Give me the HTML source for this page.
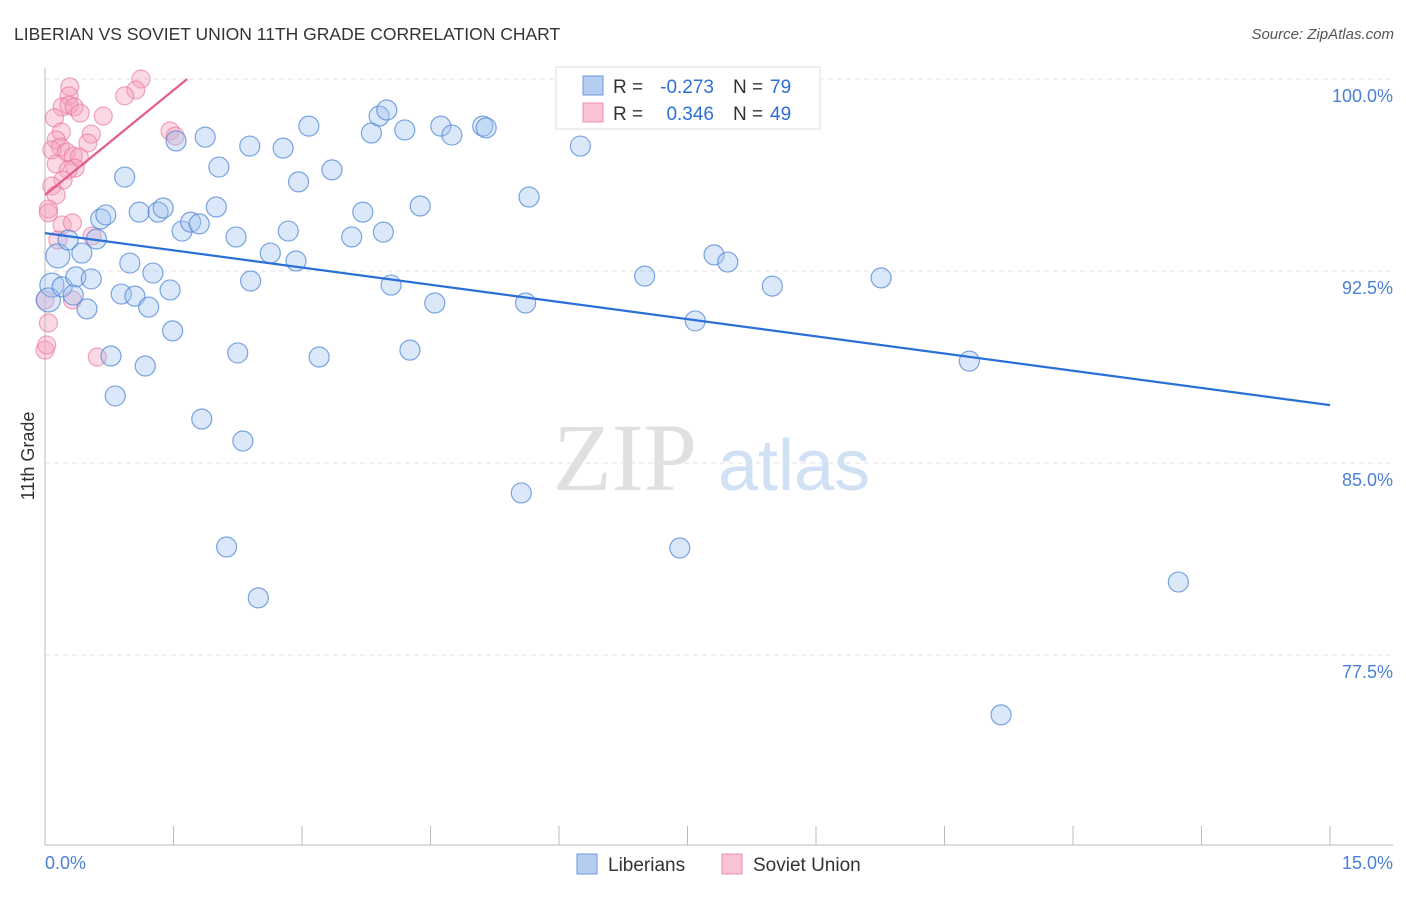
<!DOCTYPE html>
<html><head><meta charset="utf-8"><style>
body{margin:0;background:#fff;font-family:"Liberation Sans",sans-serif}
</style></head><body>
<svg id="chart" width="1406" height="892" xmlns="http://www.w3.org/2000/svg" font-family="Liberation Sans, sans-serif">
<text x="14" y="40" font-size="17.5" fill="#333">LIBERIAN VS SOVIET UNION 11TH GRADE CORRELATION CHART</text>
<text x="1394" y="39" font-size="15" fill="#555" text-anchor="end" font-style="italic">Source: ZipAtlas.com</text>
<g>
<text x="553" y="490" font-size="96" font-family="Liberation Serif, serif" fill="#e0e0e0">ZIP</text>
<text x="718" y="490" font-size="72" fill="#d0e0f5">atlas</text>
</g>
<g id="grid"></g>
<g id="axes"></g>
<g id="marks"></g>
<text transform="translate(34,456) rotate(-90)" font-size="18" fill="#333" text-anchor="middle">11th Grade</text>
<g>
<rect x="556" y="67" width="264" height="62" fill="#fff" stroke="#ddd"/>
<rect x="583" y="76" width="20" height="19" fill="#b4cdf0" stroke="#6b9ae0"/>
<rect x="583" y="103" width="20" height="19" fill="#f9c3d3" stroke="#ee8fab"/>
<text x="613" y="93" font-size="19" fill="#333">R =</text>
<text x="714" y="93" font-size="19" fill="#2b6fd6" text-anchor="end">-0.273</text>
<text x="733" y="93" font-size="19" fill="#333">N =</text>
<text x="770" y="93" font-size="19" fill="#2b6fd6">79</text>
<text x="613" y="120" font-size="19" fill="#333">R =</text>
<text x="714" y="120" font-size="19" fill="#2b6fd6" text-anchor="end">0.346</text>
<text x="733" y="120" font-size="19" fill="#333">N =</text>
<text x="770" y="120" font-size="19" fill="#2b6fd6">49</text>
</g>
<g>
<rect x="577" y="854" width="20" height="20" fill="#b4cdf0" stroke="#6b9ae0"/>
<text x="608" y="871" font-size="19" fill="#333">Liberians</text>
<rect x="722" y="854" width="20" height="20" fill="#f9c3d3" stroke="#ee8fab"/>
<text x="753" y="871" font-size="19" fill="#333">Soviet Union</text>
</g>
</svg>
<script>
const yTicks=[100,92.5,85,77.5];
const yTickLabels=["100.0%","92.5%","85.0%","77.5%"];
const xTickLabels=["0.0%","15.0%"];
const blueX=[0.15,0.08,0.04,0.20,0.27,0.43,0.36,0.54,0.49,0.33,0.60,0.65,0.71,0.77,0.82,0.89,0.93,0.99,1.05,1.10,1.21,1.26,1.32,1.38,1.46,1.49,1.17,1.53,1.60,1.70,1.80,1.83,1.87,2.00,2.03,2.12,2.23,2.25,2.31,2.39,2.40,2.49,2.63,2.78,2.84,2.93,2.96,3.08,3.20,3.35,3.58,3.71,3.81,3.90,3.95,3.99,4.04,4.20,4.26,4.38,4.55,4.62,4.75,5.11,5.15,5.56,5.61,5.65,6.25,7.00,7.41,7.59,7.81,7.97,8.49,9.76,10.79,11.16,13.23];
const blueY=[93.09,91.95,91.37,91.88,93.71,93.20,92.27,92.19,91.02,91.56,93.75,94.53,94.69,89.18,87.62,91.60,96.17,92.81,91.52,94.80,91.09,92.42,94.80,94.96,91.76,90.16,88.79,97.58,94.06,94.41,94.34,86.72,97.73,95.00,96.56,81.72,93.83,89.30,85.86,97.38,92.11,79.73,93.20,97.30,94.06,92.89,95.98,98.16,89.14,96.45,93.83,94.80,97.89,98.55,94.02,98.79,91.95,98.01,89.41,95.04,91.25,98.16,97.81,98.16,98.09,83.83,91.25,95.39,97.38,92.30,81.68,90.55,93.13,92.85,91.91,92.23,88.98,75.16,80.35];
const pinkX=[1.12,0.29,0.28,1.06,0.93,0.20,0.28,0.34,0.41,0.68,0.11,1.46,1.52,0.19,0.54,0.13,0.50,0.18,0.08,0.25,0.33,0.40,0.13,0.35,0.27,0.21,0.08,0.13,0.04,0.04,0.20,0.32,0.55,0.15,0.32,0.04,0.00,0.02,0.61,0.00];
const pinkY=[100.0,99.69,99.34,99.57,99.34,98.91,98.98,98.91,98.67,98.55,98.48,97.97,97.77,97.93,97.85,97.62,97.50,97.34,97.23,97.15,96.99,96.95,96.68,96.52,96.45,96.05,95.82,95.47,94.92,94.77,94.30,94.38,93.87,93.71,91.37,90.47,89.41,89.61,89.14,91.37];
const blueTrendX=[0,15], blueTrendY=[93.98,87.26];
const pinkTrendX=[0,1.66], pinkTrendY=[95.47,100.0];
const X=v=>45+v/15*1285, Y=v=>79+(100-v)*25.6;
const NS="http://www.w3.org/2000/svg";
function mk(p,t,a){const e=document.createElementNS(NS,t);for(const k in a)e.setAttribute(k,a[k]);p.appendChild(e);return e;}
const grid=document.getElementById('grid'),axes=document.getElementById('axes'),marks=document.getElementById('marks');
yTicks.forEach((t,i)=>{
 const l=mk(grid,'line',{x1:45,x2:1393,y1:Y(t),y2:Y(t),stroke:'#e2e2e2','stroke-dasharray':'5,4'});
 
 
 const tx=mk(axes,'text',{x:1393,y:Y(t)+23,'font-size':18,fill:'#4a80d8','text-anchor':'end'});
 tx.textContent=yTickLabels[i];
 
 
});
const ax=mk(axes,'line',{x1:45,x2:45,y1:68,y2:845,stroke:'#bbb'});


const bx=mk(axes,'line',{x1:45,x2:1393,y1:845,y2:845,stroke:'#bbb'});


for(let i=0;i<=10;i++){const t=mk(axes,'line',{x1:X(i*1.5),x2:X(i*1.5),y1:826,y2:845,stroke:'#bbb'});
 
 }
[[0,'start',45],[15,'end',1393]].forEach((d,i)=>{const t=mk(axes,'text',{x:d[2],y:869,'font-size':18,fill:'#4a80d8','text-anchor':d[1]});t.textContent=xTickLabels[i];
 
 });
pinkX.forEach((v,i)=>{const c=mk(marks,'circle',{cx:X(v),cy:Y(pinkY[i]),r:9,fill:'rgba(244,160,188,0.4)',stroke:'rgba(232,120,155,0.65)','stroke-width':1.2});
 
 });
blueX.forEach((v,i)=>{const c=mk(marks,'circle',{cx:X(v),cy:Y(blueY[i]),r:(i<3?12:10),fill:'rgba(160,195,238,0.38)',stroke:'rgba(80,135,215,0.75)','stroke-width':1.2});
 
 });
const bl=mk(marks,'line',{x1:X(blueTrendX[0]),y1:Y(blueTrendY[0]),x2:X(blueTrendX[1]),y2:Y(blueTrendY[1]),stroke:'#2a6fd8','stroke-width':2.2});


const pl=mk(marks,'line',{x1:X(pinkTrendX[0]),y1:Y(pinkTrendY[0]),x2:X(pinkTrendX[1]),y2:Y(pinkTrendY[1]),stroke:'#e35d87','stroke-width':2.2});


</script>
</body></html>
